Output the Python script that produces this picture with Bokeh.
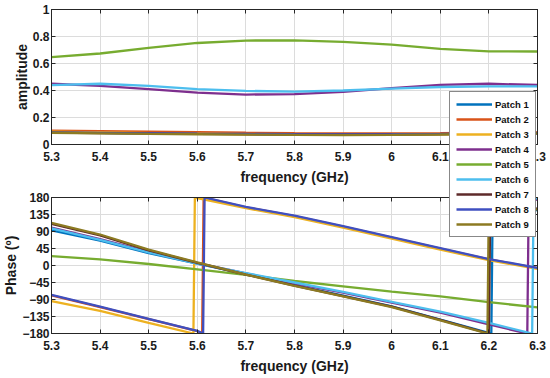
from bokeh.plotting import figure
from bokeh.layouts import column
from bokeh.models import LinearAxis, FixedTicker, Range1d, Legend, LegendItem
from bokeh.embed import file_html
from bokeh.resources import INLINE

# ---------------- data ----------------
patch_names = ["Patch 1", "Patch 2", "Patch 3", "Patch 4", "Patch 5",
               "Patch 6", "Patch 7", "Patch 8", "Patch 9"]

freq = [5.3, 5.4, 5.5, 5.6, 5.7, 5.8, 5.9, 6.0, 6.1, 6.2, 6.3]

amp_p1 = [0.090, 0.087, 0.084, 0.081, 0.078, 0.076, 0.075, 0.076, 0.079, 0.083, 0.086]
amp_p2 = [0.103, 0.099, 0.095, 0.091, 0.087, 0.084, 0.082, 0.082, 0.084, 0.087, 0.090]
amp_p3 = [0.095, 0.090, 0.085, 0.080, 0.076, 0.073, 0.072, 0.073, 0.076, 0.080, 0.084]
amp_p4 = [0.450, 0.434, 0.410, 0.385, 0.370, 0.373, 0.390, 0.417, 0.441, 0.450, 0.441]
amp_p5 = [0.647, 0.674, 0.716, 0.752, 0.770, 0.772, 0.760, 0.740, 0.708, 0.690, 0.689]
amp_p6 = [0.440, 0.450, 0.434, 0.410, 0.397, 0.392, 0.400, 0.414, 0.426, 0.430, 0.430]
amp_p7 = [0.088, 0.085, 0.082, 0.079, 0.077, 0.075, 0.074, 0.075, 0.077, 0.080, 0.083]
amp_p8 = [0.089, 0.086, 0.083, 0.080, 0.078, 0.076, 0.075, 0.076, 0.078, 0.081, 0.084]
amp_p9 = [0.087, 0.083, 0.079, 0.076, 0.073, 0.071, 0.070, 0.071, 0.074, 0.078, 0.082]

# phase (degrees), each with its own frequency samples (wrap points included)
ph_f_p1 = [5.3, 5.4, 5.5, 5.6, 5.7, 5.8, 5.9, 6.0, 6.1, 6.205, 6.208, 6.3]
ph_p1 = [93, 66, 33, 5, -23, -52, -80, -108, -143, -180, 180, 146]
ph_f_p2 = [5.3, 5.4, 5.5, 5.6, 5.61, 5.613, 5.7, 5.8, 5.9, 6.0, 6.1, 6.2, 6.3]
ph_p2 = [-79, -110, -142, -174, -180, 180, 154, 131, 103, 74, 45, 16, -7]
ph_f_p3 = [5.3, 5.4, 5.5, 5.592, 5.595, 5.7, 5.8, 5.9, 6.0, 6.1, 6.2, 6.3]
ph_p3 = [-94, -120, -152, -180, 180, 152, 128, 100, 71, 42, 14, -9]
ph_f_p4 = [5.3, 5.4, 5.5, 5.6, 5.7, 5.8, 5.9, 6.0, 6.1, 6.2, 6.279, 6.282, 6.3]
ph_p4 = [100, 70, 36, 6, -21, -47, -72, -98, -125, -156, -180, 180, 174]
ph_f_p5 = [5.3, 5.4, 5.5, 5.6, 5.7, 5.8, 5.9, 6.0, 6.1, 6.2, 6.3]
ph_p5 = [25, 16, 4, -10, -25, -41, -55, -69, -82, -97, -111]
ph_f_p6 = [5.3, 5.4, 5.5, 5.6, 5.7, 5.8, 5.9, 6.0, 6.1, 6.2, 6.289, 6.292, 6.3]
ph_p6 = [98, 68, 35, 5, -20, -45, -70, -96, -122, -152, -180, 180, 177]
ph_f_p7 = [5.3, 5.4, 5.5, 5.6, 5.7, 5.8, 5.9, 6.0, 6.1, 6.2, 6.203, 6.3]
ph_p7 = [110, 80, 40, 7, -24, -53, -81, -109, -144, -180, 180, 150]
ph_f_p8 = [5.3, 5.4, 5.5, 5.6, 5.612, 5.615, 5.7, 5.8, 5.9, 6.0, 6.1, 6.2, 6.3]
ph_p8 = [-78, -109, -141, -173, -180, 180, 155, 132, 104, 75, 46, 17, -6]
ph_f_p9 = [5.3, 5.4, 5.5, 5.6, 5.7, 5.8, 5.9, 6.0, 6.1, 6.197, 6.2, 6.3]
ph_p9 = [113, 82, 42, 8, -24, -54, -82, -110, -145, -180, 180, 148]

x_ticks = [5.3, 5.4, 5.5, 5.6, 5.7, 5.8, 5.9, 6, 6.1, 6.2, 6.3]
amp_ticks = [0, 0.2, 0.4, 0.6, 0.8, 1]
phase_ticks = [-180, -135, -90, -45, 0, 45, 90, 135, 180]

amps = [amp_p1, amp_p2, amp_p3, amp_p4, amp_p5, amp_p6, amp_p7, amp_p8, amp_p9]
phase_f = [ph_f_p1, ph_f_p2, ph_f_p3, ph_f_p4, ph_f_p5, ph_f_p6, ph_f_p7, ph_f_p8, ph_f_p9]
phases = [ph_p1, ph_p2, ph_p3, ph_p4, ph_p5, ph_p6, ph_p7, ph_p8, ph_p9]

colors = ["#0072BD", "#D95319", "#EDB120", "#7E2F8E", "#77AC30",
          "#4DBEEE", "#5E2A2A", "#3F4FC0", "#8C7A22"]

# ---------------- style ----------------
FONT = "Liberation Sans"
AXC = "#262626"
W, H = 550, 378
LEFT = 51
RIGHT = 13


def style_axis(ax, label=True, standoff=2, title_standoff=0):
    ax.axis_line_color = AXC
    ax.axis_line_width = 1
    ax.major_tick_line_color = AXC
    ax.major_tick_in = 4
    ax.major_tick_out = 0
    ax.minor_tick_line_color = None
    ax.major_label_text_font = FONT
    ax.major_label_text_font_style = "bold"
    if label:
        ax.major_label_text_color = "#1a1a1a"
        ax.major_label_text_font_size = "12px"
        ax.major_label_standoff = standoff
    else:
        ax.major_label_text_color = None
        ax.major_label_text_font_size = "1px"
        ax.major_label_standoff = 0
    ax.axis_label_text_font = FONT
    ax.axis_label_text_font_style = "bold"
    ax.axis_label_text_font_size = "14px"
    ax.axis_label_text_color = "#1a1a1a"
    ax.axis_label_standoff = title_standoff


def make_fig(h, yr, yticks, ylabel, yover, top, bottom):
    p = figure(width=W, height=h, x_range=Range1d(5.3, 6.3), y_range=Range1d(*yr),
               output_backend="svg", toolbar_location=None,
               min_border_left=LEFT, min_border_right=RIGHT,
               min_border_top=top, min_border_bottom=bottom)
    p.background_fill_color = "white"
    p.border_fill_color = "white"
    p.outline_line_color = AXC
    p.outline_line_width = 1
    p.xaxis.axis_label = "frequency (GHz)"
    p.yaxis.axis_label = ylabel
    p.xaxis.ticker = FixedTicker(ticks=x_ticks)
    p.yaxis.ticker = FixedTicker(ticks=yticks)
    p.xaxis.major_label_overrides = {6: "6"}
    p.yaxis.major_label_overrides = yover
    style_axis(p.xaxis[0], standoff=7, title_standoff=5)
    style_axis(p.yaxis[0], standoff=2, title_standoff=0)
    p.xgrid.ticker = FixedTicker(ticks=x_ticks)
    p.ygrid.ticker = FixedTicker(ticks=yticks)
    for g in (p.xgrid[0], p.ygrid[0]):
        g.grid_line_color = "#dcdcdc"
        g.grid_line_width = 1
    r_ax = LinearAxis(ticker=FixedTicker(ticks=yticks))
    style_axis(r_ax, label=False)
    p.add_layout(r_ax, "right")
    t_ax = LinearAxis(ticker=FixedTicker(ticks=x_ticks))
    style_axis(t_ax, label=False)
    p.add_layout(t_ax, "above")
    return p


# top panel: canvas 0..187, frame 9..144
p_top = make_fig(187, (0, 1), amp_ticks, "amplitude", {0: "0", 1: "1"}, 9, 43)
for a, c in zip(amps, colors):
    p_top.line(freq, a, line_color=c, line_width=2.3)

# bottom panel: canvas 187..378, frame 197..333
p_bot = make_fig(191, (-180, 180), phase_ticks, "Phase (\u00ba)", {}, 10, 45)
for f, ph, c in zip(phase_f, phases, colors):
    p_bot.line(f, ph, line_color=c, line_width=2.3)

# transparent full-size overlay that only carries the legend (pulled up over both panels);
# its frame is aligned with the panels' frames, so the legend offset is frame-relative
p_leg = figure(width=W, height=H, x_range=Range1d(5.3, 6.3), y_range=Range1d(-180, 180),
               output_backend="svg", toolbar_location=None,
               x_axis_location=None, y_axis_location=None,
               min_border=0, min_border_left=0, min_border_right=0,
               min_border_top=0, min_border_bottom=0,
               margin=(-H, 0, 0, 0))
p_leg.outline_line_color = None
p_leg.background_fill_alpha = 0
p_leg.border_fill_alpha = 0
p_leg.grid.visible = False
leg_renderers = []
for f, ph, c in zip(phase_f, phases, colors):
    leg_renderers.append(p_leg.line(f, ph, line_color=c, line_width=2.3, visible=False))

lg = Legend(items=[LegendItem(label=n, renderers=[r]) for n, r in zip(patch_names, leg_renderers)],
            location=(449 - LEFT, 141))
lg.label_text_font = FONT
lg.label_text_font_style = "bold"
lg.label_text_font_size = "9.5px"
lg.label_text_color = "#111111"
lg.label_height = 12
lg.glyph_height = 12
lg.glyph_width = 36
lg.label_standoff = 3
lg.spacing = 3
lg.padding = 6
lg.margin = 0
lg.border_line_color = "#111111"
lg.border_line_width = 1
lg.background_fill_color = "white"
lg.background_fill_alpha = 1
p_leg.add_layout(lg)

layout = column(p_top, p_bot, p_leg, spacing=0)

open("out.html", "w").write(file_html(layout, INLINE))
